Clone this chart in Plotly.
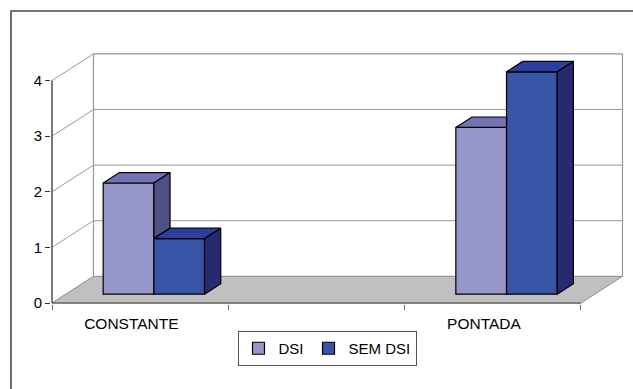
import plotly.graph_objects as go

# --- data -------------------------------------------------------------
categories = ["CONSTANTE", "", "PONTADA"]
dsi = [2, None, 3]
sem_dsi = [1, None, 4]
y_ticks = [0, 1, 2, 3, 4]
series_names = ["DSI", "SEM DSI"]

# --- styling / projection constants ----------------------------------
front_col = ["#9696CA", "#3854A6"]
top_col = ["#7272B4", "#2C3F9E"]
side_col = ["#505084", "#282A70"]

PX_X = 176.33          # pixels per category
PX_Y = 55.6            # pixels per value unit
DDX, DDY = 41.5 / PX_X, 26.7 / PX_Y   # full floor depth, in axis units
F1, FD = 0.33, 0.39    # bar front depth fraction and bar depth fraction
W = 0.2875             # width of one bar (category units)

sx, by = F1 * DDX, F1 * DDY       # shift of bar front faces
bdx, bdy = FD * DDX, FD * DDY     # bar depth in axis units
n_cat = len(categories)
y_max = max(y_ticks)

fig = go.Figure()

all_series = [dsi, sem_dsi]
tops = [[], []]
sides = [[], []]

for s, vals in enumerate(all_series):
    xs_c, ys = [], []
    for i, v in enumerate(vals):
        if v is None:
            continue
        xL = i + 0.5 - W + s * W + sx
        xR = xL + W
        xs_c.append((xL + xR) / 2)
        ys.append(v)
        yt = by + v
        nb = all_series[s + 1][i] if s + 1 < len(all_series) else None
        hidden_right = nb is not None and nb >= v
        # top face (clipped where the taller neighbour hides it)
        if hidden_right:
            pts = [(xL, yt), (xR, yt), (xR, yt + bdy), (xL + bdx, yt + bdy)]
        else:
            pts = [(xL, yt), (xR, yt), (xR + bdx, yt + bdy), (xL + bdx, yt + bdy)]
        tops[s].append(pts)
        # right side face (only the part above a shorter neighbour)
        if not hidden_right:
            lo = by + (nb if nb is not None else 0)
            sides[s].append([(xR, lo), (xR, yt), (xR + bdx, yt + bdy), (xR + bdx, lo + bdy)])
    fig.add_trace(go.Bar(
        x=xs_c, y=ys, base=by, width=W, name=series_names[s],
        marker=dict(color=front_col[s], line=dict(color="black", width=1.2)),
        hoverinfo="skip",
    ))


def poly_trace(polys, color):
    xs, ys = [], []
    for p in polys:
        for (a, b) in p + [p[0]]:
            xs.append(a)
            ys.append(b)
        xs.append(None)
        ys.append(None)
    return go.Scatter(x=xs, y=ys, mode="lines", fill="toself", fillcolor=color,
                      line=dict(color="black", width=1.2), showlegend=False,
                      hoverinfo="skip")


for s in range(len(all_series)):
    if tops[s]:
        fig.add_trace(poly_trace(tops[s], top_col[s]))
    if sides[s]:
        fig.add_trace(poly_trace(sides[s], side_col[s]))

# --- walls, floor and gridlines ----------------------------------------
shapes = []
grid = "#999999"
# floor
shapes.append(dict(type="path", layer="below", xref="x", yref="y",
                   path=f"M0,0 L{n_cat},0 L{n_cat + DDX},{DDY} L{DDX},{DDY} Z",
                   fillcolor="#C0C0C0", line=dict(color="#8a8a8a", width=1)))
# back wall
shapes.append(dict(type="rect", layer="below", xref="x", yref="y",
                   x0=DDX, y0=DDY, x1=n_cat + DDX, y1=y_max + DDY,
                   fillcolor="white", line=dict(color=grid, width=1.2)))
for k in y_ticks[1:-1]:
    shapes.append(dict(type="line", layer="below", xref="x", yref="y",
                       x0=DDX, y0=k + DDY, x1=n_cat + DDX, y1=k + DDY,
                       line=dict(color=grid, width=1)))
for k in y_ticks[1:]:
    shapes.append(dict(type="line", layer="below", xref="x", yref="y",
                       x0=0, y0=k, x1=DDX, y1=k + DDY,
                       line=dict(color=grid, width=1)))
# front floor edge and value axis line
shapes.append(dict(type="line", layer="below", xref="x", yref="y",
                   x0=0, y0=0, x1=n_cat, y1=0, line=dict(color="#707070", width=1.6)))
shapes.append(dict(type="line", layer="above", xref="x", yref="y",
                   x0=0, y0=0, x1=0, y1=y_max, line=dict(color="#333333", width=1.3)))

# outer chart frame
L, Wp, T, Hp = 51, 582, 40, 264
shapes.append(dict(type="rect", xref="paper", yref="paper", layer="above",
                   x0=(11 - L) / Wp, x1=(660 - L) / Wp,
                   y0=1 - (420 - T) / Hp, y1=1 - (11 - T) / Hp,
                   line=dict(color="#4d4d4d", width=1.6), fillcolor="rgba(0,0,0,0)"))

font_family = "Arial, Liberation Sans, sans-serif"

fig.update_layout(
    width=633, height=389,
    margin=dict(l=L, r=633 - L - Wp, t=T, b=389 - T - Hp),
    paper_bgcolor="white", plot_bgcolor="white",
    barmode="overlay",
    shapes=shapes,
    font=dict(family=font_family, color="black"),
    xaxis=dict(
        range=[-1 / PX_X, (Wp - 1) / PX_X],
        showgrid=False, zeroline=False, showline=False,
        tickvals=[i + 0.45 for i in range(n_cat)], ticktext=categories,
        ticks="", ticklabelstandoff=8,
        tickfont=dict(size=15.5, family=font_family, color="black"),
        minor=dict(tickmode="array", tickvals=list(range(n_cat + 1)), ticks="outside",
                   ticklen=5, tickwidth=1.3, tickcolor="#707070", showgrid=False),
        fixedrange=True,
    ),
    yaxis=dict(
        range=[-1 / PX_Y, (Hp - 1) / PX_Y],
        showgrid=False, zeroline=False, showline=False,
        tickvals=y_ticks, ticks="outside", ticklen=5, tickwidth=1.3, tickcolor="#333333",
        tickfont=dict(size=15, family=font_family, color="black"),
        fixedrange=True,
    ),
    legend=dict(
        orientation="h", x=(237.5 - L) / Wp, y=1 - (331 - T) / Hp,
        xanchor="left", yanchor="top",
        bordercolor="#555555", borderwidth=1, bgcolor="white",
        font=dict(size=15, family=font_family, color="black"),
        traceorder="normal",
    ),
)

fig.write_html("out.html")
